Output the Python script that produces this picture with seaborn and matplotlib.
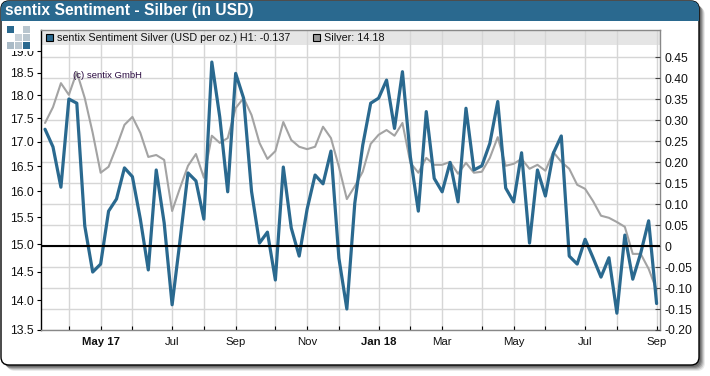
import pandas as pd
import numpy as np
import matplotlib
matplotlib.use('Agg')
import matplotlib.pyplot as plt
import matplotlib.dates as mdates
from matplotlib.patches import FancyBboxPatch, Rectangle
import seaborn as sns

# weekly values, mid march 2017 to early sept 2018
weeks = pd.date_range('2017-03-17', '2018-09-07', freq='W-FRI')
sentiment = [0.278, 0.236, 0.14, 0.35, 0.34, 0.048, -0.062, -0.043, 0.083, 0.112,
             0.186, 0.165, 0.064, -0.057, 0.181, 0.055, -0.14, 0.014, 0.174, 0.155,
             0.064, 0.438, 0.307, 0.129, 0.411, 0.352, 0.13, 0.007, 0.033, -0.081,
             0.188, 0.043, -0.024, 0.088, 0.169, 0.148, 0.226, -0.029, -0.15, 0.102,
             0.24, 0.34, 0.352, 0.395, 0.28, 0.415, 0.212, 0.083, 0.32, 0.161,
             0.129, 0.199, 0.105, 0.328, 0.181, 0.191, 0.244, 0.344, 0.138, 0.105,
             0.222, 0.007, 0.181, 0.119, 0.221, 0.262, -0.024, -0.043, 0.016, -0.028,
             -0.074, -0.028, -0.16, 0.026, -0.079, -0.017, 0.06, -0.137]
silver = [17.40, 17.74, 18.27, 18.01, 18.52, 17.94, 17.19, 16.37, 16.49, 16.90,
          17.36, 17.53, 17.19, 16.69, 16.73, 16.63, 15.62, 16.07, 16.51, 16.75,
          16.27, 17.13, 16.98, 17.08, 17.72, 17.94, 17.57, 16.98, 16.65, 16.81,
          17.42, 17.04, 16.90, 16.85, 16.90, 17.32, 17.08, 16.49, 15.85, 16.10,
          16.39, 16.96, 17.15, 17.25, 17.13, 17.40, 16.57, 16.37, 16.67, 16.53,
          16.53, 16.59, 16.35, 16.57, 16.37, 16.39, 16.67, 17.10, 16.51, 16.55,
          16.65, 16.45, 16.53, 16.41, 16.79, 16.59, 16.45, 16.13, 16.05, 15.81,
          15.53, 15.49, 15.41, 15.32, 14.82, 14.82, 14.55, 14.18]
df = pd.DataFrame({'week': weeks, 'sentiment': sentiment, 'silver': silver})

left_ticks = [13.5, 14.0, 14.5, 15.0, 15.5, 16.0, 16.5, 17.0, 17.5, 18.0, 18.5, 19.0]
right_ticks = [-0.20, -0.15, -0.10, -0.05, 0, 0.05, 0.10, 0.15, 0.20, 0.25, 0.30, 0.35, 0.40, 0.45]
right_labels = ['-0.20', '-0.15', '-0.10', '-0.05', '0', '0.05', '0.10', '0.15', '0.20',
                '0.25', '0.30', '0.35', '0.40', '0.45']
month_ticks = ['2017-04-07', '2017-05-05', '2017-06-02', '2017-07-07', '2017-08-04', '2017-09-01',
               '2017-10-06', '2017-11-03', '2017-12-01', '2018-01-05', '2018-02-02', '2018-03-02',
               '2018-04-06', '2018-05-04', '2018-06-01', '2018-07-06', '2018-08-03', '2018-09-07']
month_labels = ['', 'May 17', '', 'Jul', '', 'Sep', '', 'Nov', '', 'Jan 18', '', 'Mar',
                '', 'May', '', 'Jul', '', 'Sep']

BLUE = '#2a698f'
GREY = '#a3a3a3'
GRID = '#d6d6d6'
W, H = 710, 376

sns.set_theme(style='white')
plt.rcParams['font.family'] = ['Liberation Sans', 'DejaVu Sans']
fig = plt.figure(figsize=(W / 100, H / 100), dpi=100, facecolor='white')

# frame goes in an axes measured in pixels
frame = fig.add_axes([0, 0, 1, 1], zorder=0)
frame.set_xlim(0, W)
frame.set_ylim(H, 0)
frame.axis('off')
for off, a in [(6, 0.08), (5, 0.12), (4, 0.16), (3, 0.2), (2, 0.2)]:
    frame.add_patch(FancyBboxPatch((1 + off, 1 + off), 698, 364, boxstyle='round,pad=0,rounding_size=8',
                                   fc='black', ec='none', alpha=a))
frame.add_patch(FancyBboxPatch((1, 1), 698, 364, boxstyle='round,pad=0,rounding_size=8',
                               fc='white', ec='black', lw=1.0))
head = FancyBboxPatch((1, 1), 698, 364, boxstyle='round,pad=0,rounding_size=8', fc='none', ec='none')
frame.add_patch(head)
frame.add_patch(Rectangle((1, 1), 698, 20, fc=BLUE, ec='none', clip_path=head))
frame.text(5, 11, 'sentix Sentiment - Silber (in USD)', color='white', fontsize=11.25,
           fontweight='bold', va='center', ha='left')

rect = [40.5 / W, 1 - 330 / H, 619.5 / W, 300 / H]
xlim = (pd.Timestamp('2017-03-13'), pd.Timestamp('2018-09-10'))

# grid and legend band sit under both lines
bg = fig.add_axes(rect, zorder=1)
bg.set_xlim(xlim)
bg.set_ylim(-0.2, 0.5143)
bg.add_patch(Rectangle((0, 0.95), 1, 0.05, transform=bg.transAxes, fc='#e5e5e5', ec='none', zorder=0))
bg.set_xticks(pd.to_datetime(month_ticks))
bg.set_yticks(right_ticks)
bg.grid(True, color=GRID, lw=1.0)
bg.set_axisbelow(True)
bg.tick_params(left=False, bottom=False, labelleft=False, labelbottom=False)
for s in bg.spines.values():
    s.set_visible(False)

ax = fig.add_axes(rect, zorder=2)
ax.patch.set_visible(False)
sns.lineplot(data=df, x='week', y='silver', ax=ax, color=GREY, lw=1.5)
ax.set_yscale('log')
ax.set_ylim(13.5, 19.5)
ax.set_xlim(xlim)
ax.set_yticks(left_ticks)
ax.set_yticklabels([f'{v:.1f}' for v in left_ticks])
ax.yaxis.set_minor_locator(matplotlib.ticker.NullLocator())
ax.set_xticks(pd.to_datetime(month_ticks))
ax.set_xticklabels(month_labels)
ax.set_xlabel('')
ax.set_ylabel('')
ax.tick_params(axis='y', left=True, length=3, width=0.8, color='black', labelsize=8.7, pad=2, labelcolor='#111111')
ax.tick_params(axis='x', bottom=True, direction='in', length=3, width=0.8, color='black', labelsize=8.2, pad=5, labelcolor='#111111')
for lab in ax.get_xticklabels():
    if lab.get_text() in ('May 17', 'Jan 18'):
        lab.set_fontweight('bold')
for name, s in ax.spines.items():
    s.set_visible(True)
    s.set_color('black' if name == 'left' else '#888888')
    s.set_linewidth(1.0)

ax2 = fig.add_axes(rect, zorder=3, sharex=ax)
ax2.patch.set_visible(False)
sns.lineplot(data=df, x='week', y='sentiment', ax=ax2, color=BLUE, lw=2.3)
ax2.axhline(0, color='black', lw=1.5)
ax2.set_ylim(-0.2, 0.5143)
ax2.set_xlim(xlim)
ax2.yaxis.tick_right()
ax2.set_yticks(right_ticks)
ax2.set_yticklabels(right_labels)
ax2.set_xlabel('')
ax2.set_ylabel('')
ax2.tick_params(axis='y', right=True, direction='in', length=3.5, width=0.8, color='#444444', labelsize=8.7, pad=3, labelcolor='#111111')
ax2.tick_params(axis='x', bottom=False, labelbottom=False)
for s in ax2.spines.values():
    s.set_visible(False)

# legend band, copyright and logo on top
top = fig.add_axes([0, 0, 1, 1], zorder=4)
top.set_xlim(0, W)
top.set_ylim(H, 0)
top.axis('off')
top.add_patch(Rectangle((46, 34), 7, 7, fc=BLUE, ec='black', lw=0.8))
top.text(57, 38, 'sentix Sentiment Silver (USD per oz.) H1: -0.137', fontsize=7.72, va='center', color='#111111')
top.add_patch(Rectangle((313, 34), 7, 7, fc='#999999', ec='black', lw=0.8))
top.text(324, 38, 'Silver: 14.18', fontsize=7.72, va='center', color='#111111')
top.text(73, 76, '(c) sentix GmbH', fontsize=6.8, va='center', color='#2a0a40')
top.add_patch(Rectangle((3, 22), 35, 28.5, fc='white', ec='none'))
logo_cells = [(7, 26, BLUE), (23, 26, '#b9c6cf'), (15, 34, '#c9d2d9'), (23, 34, '#b9c6cf'),
              (7, 42, '#a9bac6'), (15, 42, '#b9c6cf'), (23, 42, BLUE)]
for cx, cy, col in logo_cells:
    top.add_patch(Rectangle((cx, cy), 6.5, 6.5, fc=col, ec='none'))

fig.savefig('out.png', dpi=100)
